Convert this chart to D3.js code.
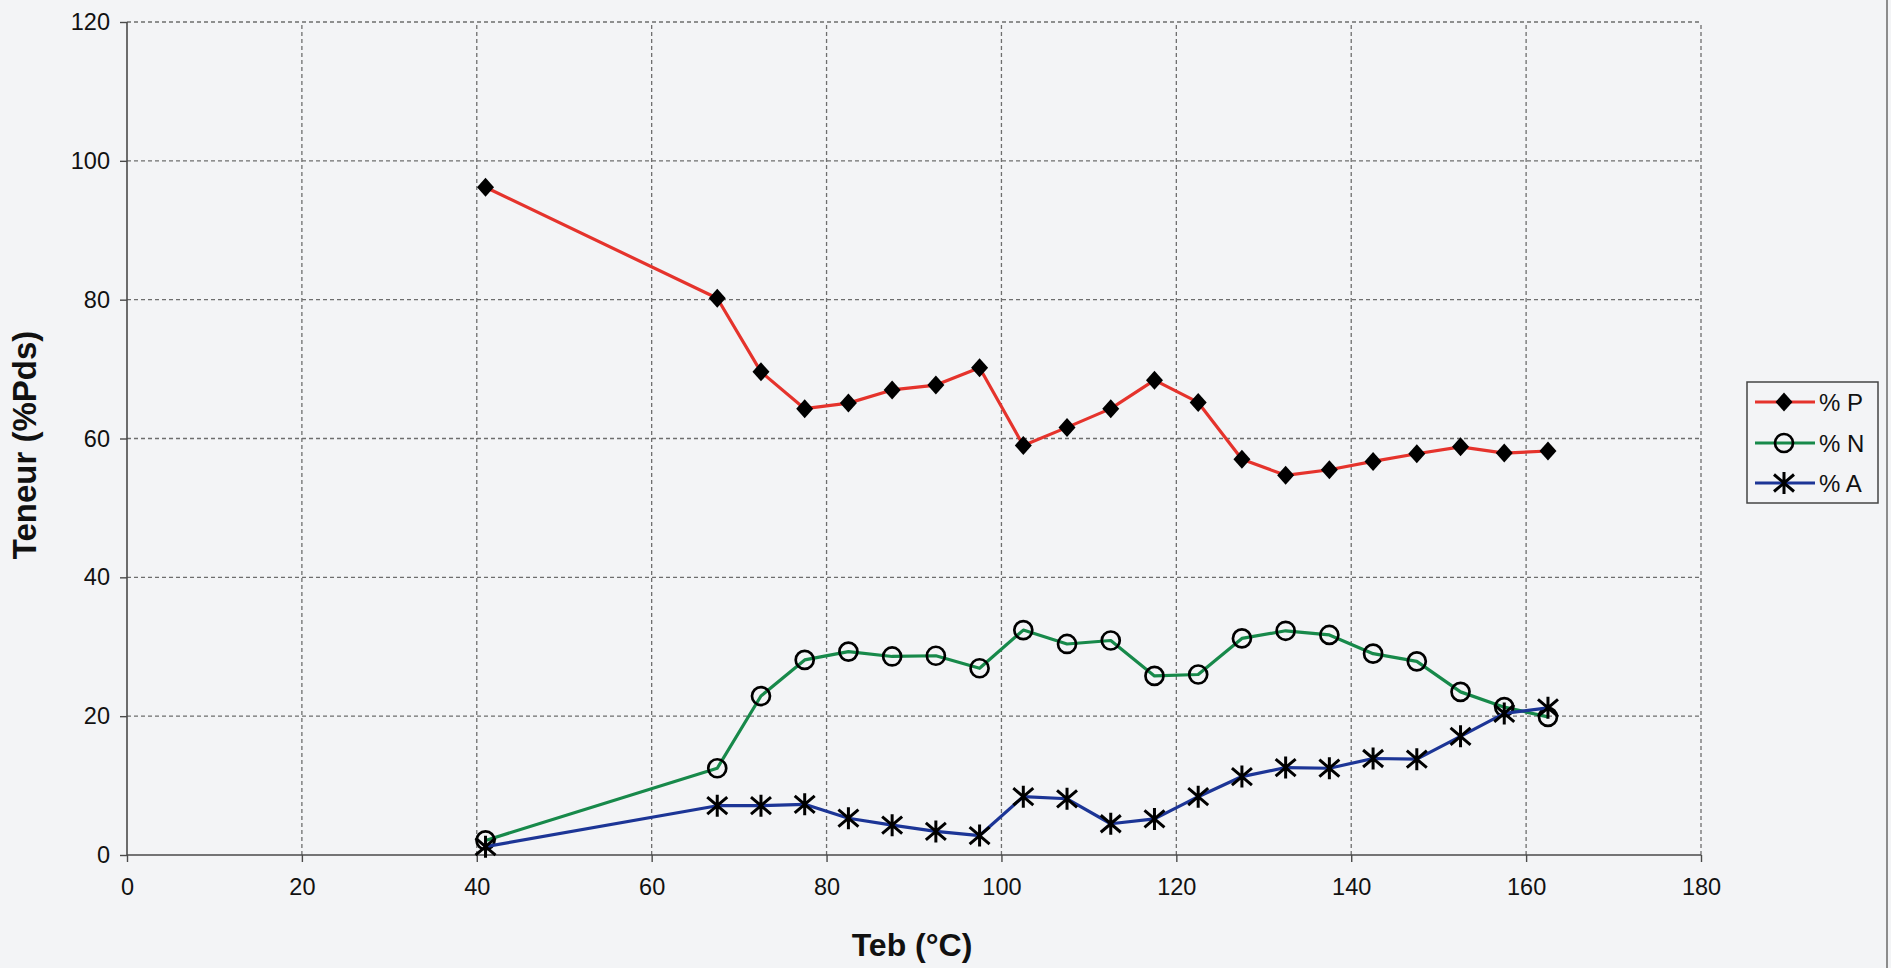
<!DOCTYPE html>
<html>
<head>
<meta charset="utf-8">
<script src="https://cdn.jsdelivr.net/npm/d3@7"></script>
<style>
  html, body { margin: 0; padding: 0; background: #f3f4f6; }
  svg { display: block; }
  text { font-family: "Liberation Sans", Arial, sans-serif; fill: #111; }
</style>
</head>
<body>
<svg id="chart" width="1891" height="968"></svg>
<script>
// Boiling temperature of each cut (°C)
const teb = [41, 67.5, 72.5, 77.5, 82.5, 87.5, 92.5, 97.5, 102.5, 107.5, 112.5,
             117.5, 122.5, 127.5, 132.5, 137.5, 142.5, 147.5, 152.5, 157.5, 162.5];
// Content (% by weight) per family
const pctP = [96.2, 80.2, 69.6, 64.3, 65.1, 67.0, 67.7, 70.2, 59.0, 61.6, 64.3,
              68.4, 65.2, 57.0, 54.7, 55.5, 56.7, 57.8, 58.8, 57.9, 58.2];
const pctN = [2.1, 12.5, 22.9, 28.1, 29.3, 28.6, 28.7, 26.9, 32.4, 30.4, 30.9,
              25.8, 26.0, 31.2, 32.3, 31.7, 29.0, 27.9, 23.5, 21.3, 19.9];
const pctA = [1.2, 7.1, 7.1, 7.3, 5.3, 4.3, 3.4, 2.8, 8.4, 8.1, 4.5,
              5.2, 8.4, 11.3, 12.6, 12.5, 13.9, 13.8, 17.1, 20.4, 21.2];
const xTicks = [0, 20, 40, 60, 80, 100, 120, 140, 160, 180];
const yTicks = [0, 20, 40, 60, 80, 100, 120];
const seriesNames = ["% P", "% N", "% A"];
const seriesColors = ["#e5332c", "#17894a", "#1c3596"];

const svg = d3.select("#chart");
const x = d3.scaleLinear().domain([0, 180]).range([127, 1701]);
const y = d3.scaleLinear().domain([0, 120]).range([855, 22]);

// grid
const grid = svg.append("g").attr("stroke", "#6e6e6e").attr("stroke-width", 1.3)
  .attr("stroke-dasharray", "4,3").attr("fill", "none");
grid.selectAll(".gh").data(yTicks.filter(d => d > 0)).join("line")
  .attr("x1", x(0)).attr("x2", x(180)).attr("y1", d => y(d)).attr("y2", d => y(d));
grid.selectAll(".gv").data(xTicks.filter(d => d > 0)).join("line")
  .attr("y1", y(0)).attr("y2", y(120)).attr("x1", d => x(d)).attr("x2", d => x(d));

// axes
const xAxis = d3.axisBottom(x).tickValues(xTicks).tickSize(7).tickPadding(16).tickFormat(d3.format("d"));
const yAxis = d3.axisLeft(y).tickValues(yTicks).tickSize(7).tickPadding(10).tickFormat(d3.format("d"));
const gx = svg.append("g").attr("transform", `translate(0,${y(0)})`).call(xAxis);
const gy = svg.append("g").attr("transform", `translate(${x(0)},0)`).call(yAxis);
[gx, gy].forEach(g => {
  g.select(".domain").attr("stroke", "#4a4a4a").attr("stroke-width", 1.6);
  g.selectAll(".tick line").attr("stroke", "#4a4a4a").attr("stroke-width", 1.4);
  g.selectAll(".tick text").attr("font-size", 23.5).attr("fill", "#151515")
    .attr("font-family", "'Liberation Sans', Arial, sans-serif");
});
gy.select(".domain").attr("d", `M0,${y(120)}V${y(0)}`);
gx.select(".domain").attr("d", `M${x(0)},0H${x(180)}`);

// axis titles
svg.append("text").attr("x", 912).attr("y", 956).attr("text-anchor", "middle")
  .attr("font-size", 32).attr("font-weight", "bold").text("Teb (°C)");
svg.append("text").attr("transform", "translate(36,445) rotate(-90)")
  .attr("text-anchor", "middle").attr("font-size", 33).attr("font-weight", "bold")
  .text("Teneur (%Pds)");

// markers
const diamond = (g, cx, cy) => g.append("path")
  .attr("d", `M${cx},${cy - 9.5}L${cx + 8.5},${cy}L${cx},${cy + 9.5}L${cx - 8.5},${cy}Z`)
  .attr("fill", "#000");
const ring = (g, cx, cy) => g.append("circle").attr("cx", cx).attr("cy", cy).attr("r", 9)
  .attr("fill", "none").attr("stroke", "#000").attr("stroke-width", 2.7);
const star = (g, cx, cy) => g.append("path")
  .attr("d", `M${cx},${cy - 11}V${cy + 11}M${cx - 10},${cy - 8.5}L${cx + 10},${cy + 8.5}M${cx - 10},${cy + 8.5}L${cx + 10},${cy - 8.5}`)
  .attr("stroke", "#000").attr("stroke-width", 3).attr("fill", "none");
const markers = [diamond, ring, star];

const seriesValues = [pctP, pctN, pctA];
const line = d3.line().x(d => x(d[0])).y(d => y(d[1]));
seriesValues.forEach((vals, i) => {
  const pts = teb.map((t, k) => [t, vals[k]]);
  const g = svg.append("g");
  g.append("path").attr("d", line(pts)).attr("fill", "none")
    .attr("stroke", seriesColors[i]).attr("stroke-width", 3.2).attr("stroke-linejoin", "round");
  pts.forEach(p => markers[i](g, x(p[0]), y(p[1])));
});

// legend
const lg = svg.append("g");
lg.append("rect").attr("x", 1747).attr("y", 382).attr("width", 131).attr("height", 121)
  .attr("fill", "#f3f4f6").attr("stroke", "#444").attr("stroke-width", 1.5);
const rowY = [402, 443, 483];
seriesNames.forEach((name, i) => {
  lg.append("line").attr("x1", 1755).attr("x2", 1815).attr("y1", rowY[i]).attr("y2", rowY[i])
    .attr("stroke", seriesColors[i]).attr("stroke-width", 3);
  markers[i](lg, 1784, rowY[i]);
  lg.append("text").attr("x", 1819).attr("y", rowY[i]).attr("dy", "0.36em")
    .attr("font-size", 24).text(name);
});

// frame edge on the right
svg.append("line").attr("x1", 1887).attr("x2", 1887).attr("y1", 0).attr("y2", 968)
  .attr("stroke", "#8c8c8c").attr("stroke-width", 2);
</script>
</body>
</html>
